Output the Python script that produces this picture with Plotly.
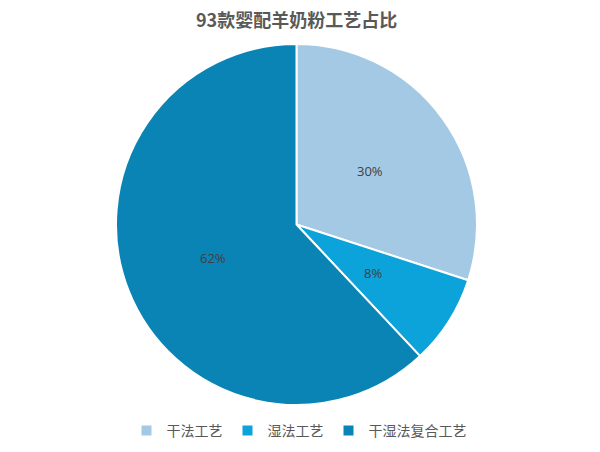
import math
import plotly.graph_objects as go

labels = ['干法工艺', '湿法工艺', '干湿法复合工艺']
values = [30, 8, 62]
colors = ['#a4c9e5', '#0ca3db', '#0a84b4']
title = '93款婴配羊奶粉工艺占比'

W, H = 600, 452
# pie box in pixels (page has an 8px body margin)
left, right, top, bottom = 108, 469, 35, 398

fig = go.Figure()

fig.add_trace(go.Pie(
    labels=labels,
    values=values,
    sort=False,
    direction='clockwise',
    rotation=0,
    marker=dict(colors=colors, line=dict(color='white', width=2)),
    textinfo='none',
    hoverinfo='label+percent',
    domain=dict(x=[left / W, right / W], y=[1 - bottom / H, 1 - top / H]),
))

# percent labels at half radius, in the middle of each slice
cx = (left + right) / 2
cy = (top + bottom) / 2
r = min(right - left, bottom - top) / 2
total = sum(values)
start = 0
for v in values:
    mid = (start + v / 2) / total * 2 * math.pi
    start += v
    fig.add_annotation(
        x=(cx + 0.5 * r * math.sin(mid)) / W,
        y=1 - (cy - 0.5 * r * math.cos(mid)) / H,
        xref='paper', yref='paper',
        text='{:.0f}%'.format(v / total * 100),
        showarrow=False,
        font=dict(family='Open Sans, Noto Sans', size=13, color='#404040'),
    )

# title
fig.add_annotation(
    x=288 / W, y=1 - 11 / H, xref='paper', yref='paper',
    xanchor='center', yanchor='middle',
    text='<b>' + title + '</b>',
    showarrow=False,
    font=dict(family='Noto Sans CJK SC', size=18, color='#595959'),
)

fig.update_layout(
    width=W,
    height=H,
    margin=dict(l=0, r=0, t=0, b=0),
    paper_bgcolor='white',
    legend=dict(
        orientation='h',
        x=291 / W, xanchor='center',
        y=1 - 423 / H, yanchor='middle',
        font=dict(family='Noto Sans CJK SC', size=14, color='#595959'),
        itemwidth=30,
        traceorder='normal',
    ),
)

fig.write_html('out.html')
